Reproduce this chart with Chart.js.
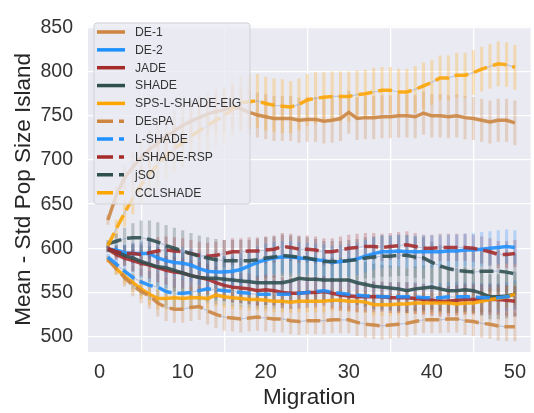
<!DOCTYPE html>
<html>
<head>
<meta charset="utf-8">
<script src="https://cdn.jsdelivr.net/npm/chart.js@4/dist/chart.umd.min.js"></script>
<style>
  html, body { margin: 0; padding: 0; background: #ffffff; }
  #wrap { width: 534px; height: 413px; }
</style>
</head>
<body>
<div id="wrap"><canvas id="myChart" width="534" height="413"></canvas></div>
<script>
// Dados
const migration = [1,2,3,4,5,6,7,8,9,10,11,12,13,14,15,16,17,18,19,20,21,22,23,24,25,26,27,28,29,30,31,32,33,34,35,36,37,38,39,40,41,42,43,44,45,46,47,48,49,50];

const seriesNames = ['DE-1', 'DE-2', 'JADE', 'SHADE', 'SPS-L-SHADE-EIG', 'DEsPA', 'L-SHADE', 'LSHADE-RSP', 'jSO', 'CCLSHADE'];

const xTicks = [0, 10, 20, 30, 40, 50];
const yTicks = [500, 550, 600, 650, 700, 750, 800, 850];

// médias
const meanDE1 = [632,660,680,692,703,712,719,727,733,739,744,748,752,755,757,760,758,754,751,749,747,747,747,745,746,746,744,745,747,754,747,748,748,749,749,750,750,749,753,750,750,749,750,748,747,745,743,745,745,742];
const meanDE2 = [599,598,595,594,594,594,589,586,584,583,581,577,574,573,573,574,576,580,584,587,589,590,590,589,588,587,586,584,585,586,588,591,594,596,596,597,596,596,596,596,596,597,597,598,598,599,600,601,602,601];
const meanJADE = [599,593,589,586,583,581,578,575,573,572,569,567,565,561,558,556,555,554,552,553,552,550,549,549,550,550,551,549,547,546,545,545,545,545,544,544,544,543,542,541,540,540,541,542,542,542,542,542,541,540];
const meanSHADE = [599,596,592,589,585,582,579,578,575,572,569,567,566,566,565,564,563,562,561,561,561,561,563,566,565,565,564,564,564,564,561,559,557,556,555,554,552,554,555,556,554,552,552,553,552,549,545,545,546,548];
const meanSPS = [587,577,568,561,554,548,543,543,544,543,544,544,543,547,545,544,543,542,542,541,540,540,539,540,540,540,540,541,541,540,540,539,536,536,536,537,537,538,538,538,538,538,537,538,538,540,542,543,545,548];
const meanDEsPA = [588,577,567,558,551,546,538,533,531,531,533,534,529,525,522,521,520,521,522,521,520,520,518,517,518,518,518,519,519,519,516,514,513,512,513,514,515,517,519,519,519,520,520,518,517,515,514,512,511,511];
const meanLSHADE = [590,582,574,567,562,558,556,551,549,549,550,552,554,553,552,551,550,549,548,548,548,548,548,549,550,551,552,550,549,548,547,546,546,545,545,545,545,545,544,544,544,545,545,545,545,544,544,544,545,547];
const meanRSP = [600,596,594,594,593,595,597,598,597,596,594,592,591,592,594,596,596,597,597,598,599,602,601,599,599,598,596,596,598,600,601,602,602,601,602,603,604,602,600,600,601,601,601,601,600,598,596,593,593,594];
const meanJSO = [605,608,611,612,612,610,607,603,600,597,594,591,589,587,586,586,586,586,587,589,590,592,591,590,589,587,585,585,585,586,587,589,590,591,591,592,592,590,589,584,580,577,575,574,573,574,574,574,573,571];
const meanCCL = [603,622,640,657,672,684,695,705,713,720,727,733,739,745,750,758,765,766,767,764,762,761,760,763,768,770,771,772,772,772,774,775,777,779,779,777,777,780,784,788,793,793,796,796,799,803,806,809,808,805];

// desvios padrão
const stdDE1 = [5,10,14,17,19,21,22,23,23,24,24,24,24,25,25,25,25,25,25,25,25,25,25,25,25,25,25,25,25,24,24,24,24,24,24,24,24,24,24,24,24,24,24,24,24,24,24,24,24,25];
const stdDE2 = [3,6,9,12,14,15,16,17,17,18,18,18,18,18,18,18,18,18,18,18,18,18,18,18,18,18,18,18,18,18,18,18,18,18,18,18,18,18,18,18,18,18,18,18,19,19,19,19,19,19];
const stdJADE = [3,6,9,12,14,15,16,16,17,17,17,17,17,17,17,17,17,17,17,17,17,17,17,17,17,17,17,17,17,17,17,17,17,17,17,17,17,17,17,17,17,17,17,17,17,17,17,17,17,17];
const stdSHADE = [3,7,11,15,18,20,22,23,24,24,25,25,25,25,25,25,25,25,25,25,25,25,25,25,25,25,25,25,25,25,25,25,25,25,25,25,25,25,25,25,25,25,25,25,25,25,25,25,25,25];
const stdSPS = [3,6,8,10,11,12,12,12,12,12,12,12,12,12,12,12,12,12,12,12,12,12,12,12,12,12,12,12,12,12,12,12,12,12,12,12,12,12,12,12,12,12,12,12,12,12,12,12,12,12];
const stdDEsPA = [3,7,10,12,13,14,15,15,15,15,15,15,15,15,15,15,15,15,15,15,15,15,15,15,15,15,15,15,15,15,15,15,15,15,15,15,15,15,15,15,15,15,15,16,16,16,16,16,16,16];
const stdLSHADE = [3,7,10,13,15,16,16,16,16,16,16,16,16,16,16,16,16,16,16,16,16,16,16,16,16,16,16,16,16,16,16,16,16,16,16,16,16,16,16,16,16,16,16,16,16,16,16,16,16,16];
const stdRSP = [3,6,9,11,13,14,15,15,15,15,15,15,15,15,15,15,15,15,15,15,15,15,15,15,15,15,15,15,15,15,15,15,15,15,15,15,15,15,15,15,15,15,15,15,15,15,15,15,15,15];
const stdJSO = [4,8,12,16,19,21,22,23,23,23,23,23,23,23,23,23,23,23,23,23,23,23,23,23,23,23,23,23,23,23,23,23,23,23,23,23,23,23,23,23,23,23,23,23,23,23,23,23,23,23];
const stdCCL = [4,10,15,18,21,23,25,26,27,28,28,29,29,29,30,30,30,30,30,30,30,30,29,29,29,29,28,28,28,28,27,27,27,26,26,26,26,26,26,25,25,25,25,25,25,25,25,25,25,25];

const allMeans = [meanDE1, meanDE2, meanJADE, meanSHADE, meanSPS, meanDEsPA, meanLSHADE, meanRSP, meanJSO, meanCCL];
const allStds = [stdDE1, stdDE2, stdJADE, stdSHADE, stdSPS, stdDEsPA, stdLSHADE, stdRSP, stdJSO, stdCCL];

// estilos
const seriesColors = ['205,133,63', '30,144,255', '165,42,42', '47,79,79', '255,165,0', '205,133,63', '30,144,255', '165,42,42', '47,79,79', '255,165,0'];
const seriesDashed = [false, false, false, false, false, true, true, true, true, true];

const FONT = "'Liberation Sans', Arial, sans-serif";

// Montar datasets
function montarDatasets(){
    const sets = [];
    allMeans.forEach(function(means, s){
        const cor = seriesColors[s];
        const stds = allStds[s];
        sets.push({
            type: 'bar',
            label: seriesNames[s] + ' err',
            data: migration.map(function(m, k){ return {x: m, y: [means[k] - stds[k], means[k] + stds[k]]}; }),
            backgroundColor: 'rgba(' + cor + ',0.26)',
            borderWidth: 0,
            barThickness: 2.5,
            grouped: false,
            order: 30
        });
        sets.push({
            type: 'line',
            label: seriesNames[s] + ' thin',
            data: migration.map(function(m, k){ return {x: m, y: means[k]}; }),
            borderColor: 'rgba(150,170,210,0.55)',
            borderWidth: 1.2,
            pointRadius: 0,
            fill: false,
            order: 20
        });
    });
    allMeans.forEach(function(means, s){
        sets.push({
            type: 'line',
            label: seriesNames[s],
            data: migration.map(function(m, k){ return {x: m, y: means[k]}; }),
            borderColor: 'rgba(' + seriesColors[s] + ',0.88)',
            borderWidth: 3.5,
            borderDash: seriesDashed[s] ? [14, 6] : [],
            pointRadius: 0,
            fill: false,
            tension: 0,
            order: 10 - s
        });
    });
    return sets;
}

// fundo da área do gráfico
const fundoPlugin = {
    id: 'fundo',
    beforeDraw(chart){
        const a = chart.chartArea;
        const ctx = chart.ctx;
        ctx.save();
        ctx.fillStyle = '#EAEAF2';
        ctx.fillRect(a.left, a.top, a.right - a.left, a.bottom - a.top);
        ctx.restore();
    }
};

// legenda dentro do gráfico
const legendaPlugin = {
    id: 'legenda',
    afterDraw(chart){
        const ctx = chart.ctx;
        const bx = 94, by = 23, bw = 156, bh = 181;
        ctx.save();
        ctx.beginPath();
        ctx.roundRect(bx, by, bw, bh, 3);
        ctx.fillStyle = 'rgba(234,234,242,0.8)';
        ctx.fill();
        ctx.strokeStyle = 'rgba(205,205,210,0.9)';
        ctx.lineWidth = 1;
        ctx.stroke();
        ctx.font = '12.2px ' + FONT;
        ctx.textBaseline = 'middle';
        ctx.fillStyle = '#333333';
        seriesNames.forEach(function(nome, s){
            const y = 32 + s * 17.85;
            ctx.beginPath();
            ctx.strokeStyle = 'rgb(' + seriesColors[s] + ')';
            ctx.lineWidth = 3.5;
            if (seriesDashed[s]) {
                ctx.setLineDash([16, 6]);
                ctx.moveTo(97, y);
                ctx.lineTo(124, y);
            } else {
                ctx.setLineDash([]);
                ctx.moveTo(97, y);
                ctx.lineTo(125, y);
            }
            ctx.stroke();
            ctx.setLineDash([]);
            ctx.fillText(nome, 135, y + 0.5);
        });
        ctx.restore();
    }
};

// Desenhar Gráfico
function desenharGrafico(){
    const ctx = document.getElementById('myChart');
    new Chart(ctx, {
        type: 'line',
        data: { datasets: montarDatasets() },
        options: {
            responsive: false,
            animation: false,
            layout: { padding: { top: 15, right: 0, left: 0, bottom: 0 } },
            plugins: {
                legend: { display: false },
                tooltip: { enabled: false }
            },
            scales: {
                x: {
                    type: 'linear',
                    min: -1.4,
                    max: 51.9,
                    offset: false,
                    afterBuildTicks: function(scale){ scale.ticks = xTicks.map(function(v){ return {value: v}; }); },
                    afterFit: function(scale){ scale.height = 61; },
                    grid: { color: '#ffffff', lineWidth: 1.3, drawTicks: false },
                    border: { display: false },
                    ticks: { color: '#333333', font: { family: FONT, size: 20 }, padding: 8, maxRotation: 0 },
                    title: { display: true, text: 'Migration', color: '#262626', font: { family: FONT, size: 22.5 }, padding: { top: 0, bottom: 1.5 } }
                },
                y: {
                    type: 'linear',
                    min: 482.5,
                    max: 851,
                    afterBuildTicks: function(scale){ scale.ticks = yTicks.map(function(v){ return {value: v}; }); },
                    afterFit: function(scale){ scale.width = 88; },
                    grid: { color: '#ffffff', lineWidth: 1.3, drawTicks: false },
                    border: { display: false },
                    ticks: { color: '#333333', font: { family: FONT, size: 19.5 }, padding: 15 },
                    title: { display: true, text: 'Mean - Std Pop Size Island', color: '#262626', font: { family: FONT, size: 22.5 }, padding: { top: 10, bottom: 0 } }
                }
            }
        },
        plugins: [fundoPlugin, legendaPlugin]
    });
}

desenharGrafico();
</script>
</body>
</html>
